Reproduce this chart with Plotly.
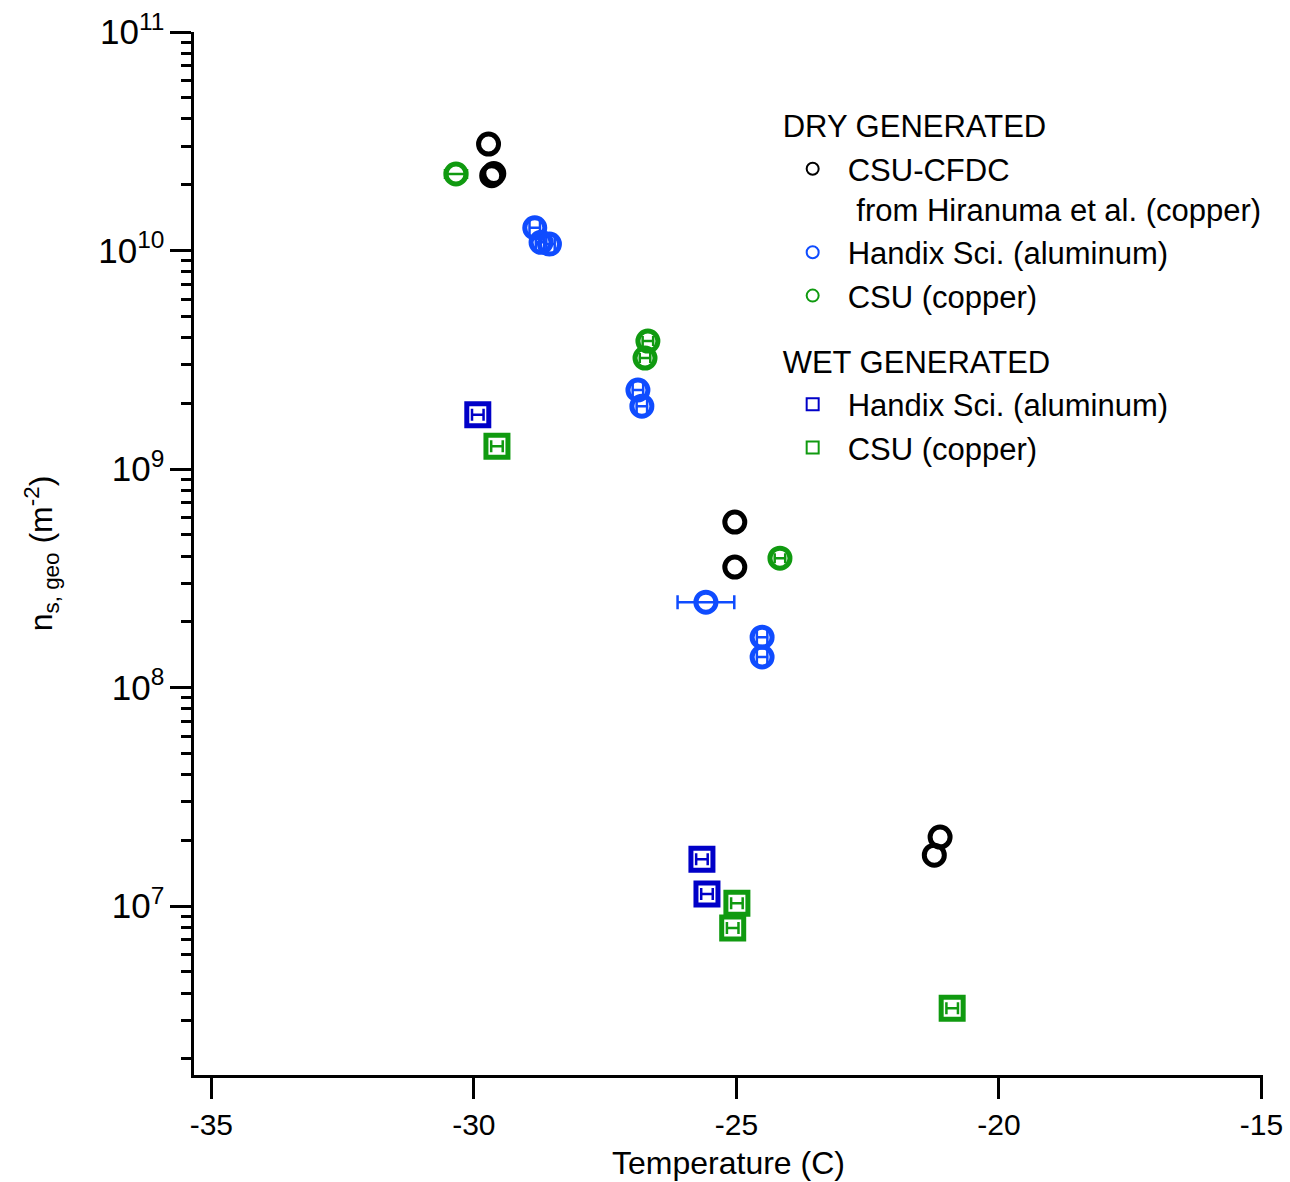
import plotly.graph_objects as go

# ---- data ----
cfdc_T = [-29.72, -29.66, -29.62, -25.03, -25.03, -21.12, -21.23]
cfdc_ns = [3.07e10, 2.20e10, 2.25e10, 5.72e8, 3.56e8, 2.07e7, 1.71e7]

handix_dry_T = [-28.84, -28.72, -28.56, -26.875, -26.80, -25.58, -24.51, -24.51]
handix_dry_ns = [1.27e10, 1.09e10, 1.07e10, 2.30e9, 1.94e9, 2.46e8, 1.70e8, 1.38e8]
handix_dry_err = [0.10, 0.10, 0.10, 0.10, 0.10, 0.54, 0.10, 0.10]

csu_dry_T = [-30.34, -26.685, -26.74, -24.17]
csu_dry_ns = [2.24e10, 3.85e9, 3.22e9, 3.91e8]
csu_dry_err = [0.21, 0.10, 0.10, 0.10]

handix_wet_T = [-29.925, -25.656, -25.56]
handix_wet_ns = [1.77e9, 1.64e7, 1.135e7]
handix_wet_err = [0.11, 0.11, 0.11]

csu_wet_T = [-29.56, -24.99, -25.07, -20.89]
csu_wet_ns = [1.27e9, 1.03e7, 7.93e6, 3.41e6]
csu_wet_err = [0.11, 0.11, 0.11, 0.11]

x_ticks = [-35, -30, -25, -20, -15]

BLACK = "#000000"
BLUE = "#0f4cff"
DKBLUE = "#0000c8"
GREEN = "#109a10"
FONT = "Liberation Sans, Arial, Helvetica, sans-serif"

fig = go.Figure()

def add(xs, ys, name, color, symbol, size, group, gtitle=None, err=None, capw=5):
    kw = {}
    if err is not None:
        kw["error_x"] = dict(type="data", array=err, symmetric=True, color=color,
                             thickness=2.5, width=capw)
    tr = dict(
        x=xs, y=ys, mode="markers", name=name,
        marker=dict(symbol=symbol, size=size, color=color, line=dict(width=5, color=color)),
        legendgroup=group, **kw)
    if gtitle:
        tr["legendgrouptitle"] = dict(text=gtitle, font=dict(size=31, color="black", family=FONT))
    fig.add_trace(go.Scatter(**tr))

add(cfdc_T, cfdc_ns, "CSU-CFDC<br>\u00a0from Hiranuma et al. (copper)", BLACK, "circle-open", 20, "dry", "DRY GENERATED")
add(handix_dry_T, handix_dry_ns, "Handix Sci. (aluminum)", BLUE, "circle-open", 20, "dry", err=handix_dry_err, capw=7)
add(csu_dry_T, csu_dry_ns, "CSU (copper)", GREEN, "circle-open", 20, "dry", err=csu_dry_err)
add(handix_wet_T, handix_wet_ns, "Handix Sci. (aluminum)", DKBLUE, "square-open", 22, "wet", "WET GENERATED", err=handix_wet_err, capw=6)
add(csu_wet_T, csu_wet_ns, "CSU (copper)", GREEN, "square-open", 22, "wet", err=csu_wet_err, capw=6)

fig.update_layout(
    width=1290, height=1182,
    margin=dict(l=194, r=27, t=32, b=107),
    paper_bgcolor="white", plot_bgcolor="white",
    font=dict(family=FONT, size=30, color="black"),
    showlegend=True,
    legend=dict(
        x=0.546, y=0.936, xanchor="left", yanchor="top",
        bgcolor="rgba(0,0,0,0)", borderwidth=0,
        font=dict(size=31, family=FONT, color="black"),
        itemsizing="constant", itemwidth=60, tracegroupgap=22, valign="top",
        groupclick="toggleitem",
    ),
    xaxis=dict(
        range=[-35.33, -14.97], tickvals=x_ticks, ticktext=[str(v) for v in x_ticks],
        showgrid=False, zeroline=False, showline=True, linecolor="black", linewidth=3,
        ticks="outside", ticklen=21, tickwidth=3, tickcolor="black",
        tickfont=dict(size=30), automargin=False,
        title=dict(text="Temperature (C)", font=dict(size=32), standoff=12),
        mirror=False,
    ),
    yaxis=dict(
        type="log", range=[6.227, 11], dtick=1, exponentformat="power",
        showgrid=False, zeroline=False, showline=True, linecolor="black", linewidth=3,
        ticks="outside", ticklen=21, tickwidth=3, tickcolor="black",
        tickfont=dict(size=28), automargin=False,
        minor=dict(ticks="outside", ticklen=10, tickwidth=3, tickcolor="black", dtick="D1", showgrid=False),
        title=dict(text="n<sub>s, geo</sub> (m<sup>-2</sup>)", font=dict(size=32), standoff=36),
        mirror=False,
    ),
)

fig.write_html("out.html")
